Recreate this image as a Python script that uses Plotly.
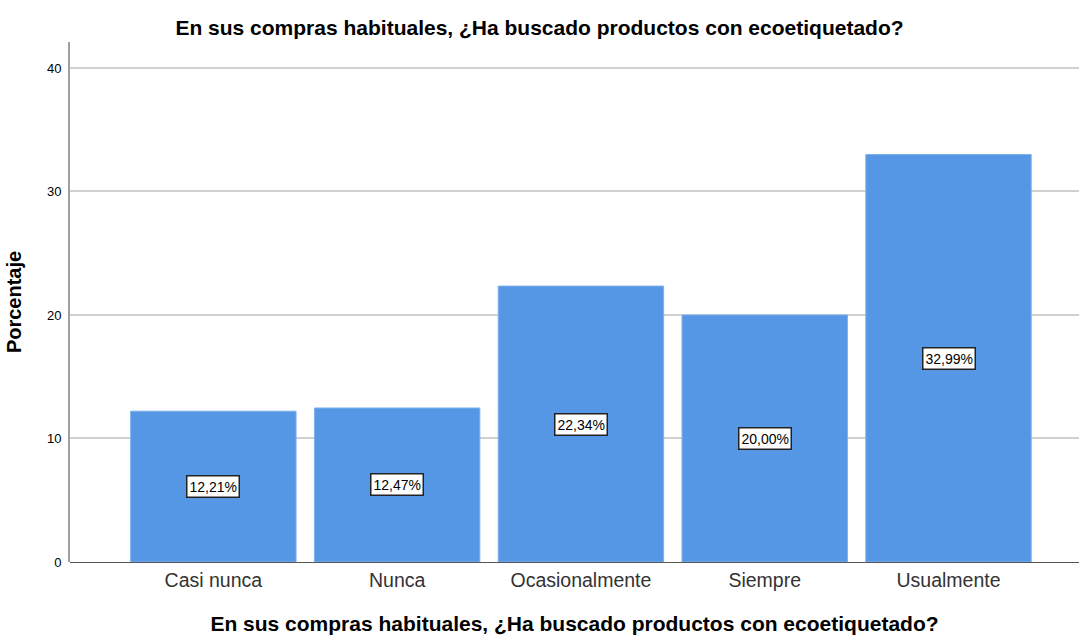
import plotly.graph_objects as go

categorias = ["Casi nunca", "Nunca", "Ocasionalmente", "Siempre", "Usualmente"]
porcentajes = [12.21, 12.47, 22.34, 20.00, 32.99]
y_ticks = [0, 10, 20, 30, 40]

titulo = "En sus compras habituales, ¿Ha buscado productos con ecoetiquetado?"

fig = go.Figure(
    go.Bar(
        x=list(range(len(categorias))),
        y=porcentajes,
        width=0.9,
        marker=dict(color="#5596e5", line=dict(color="#7eb0ec", width=1)),
        hoverinfo="skip",
    )
)

# Etiquetas de porcentaje en cajas blancas a media altura de cada barra
for i, v in enumerate(porcentajes):
    fig.add_annotation(
        x=i, y=v / 2, xref="x", yref="y",
        text=f"{v:.2f}".replace(".", ",") + "%",
        showarrow=False,
        font=dict(family="Liberation Sans, Arial", size=14, color="#000000"),
        bgcolor="#ffffff", bordercolor="#222222", borderwidth=1.5, borderpad=2,
    )

fig.update_layout(
    width=1079, height=635,
    margin=dict(l=70, r=0, t=42, b=73),
    paper_bgcolor="#ffffff", plot_bgcolor="#ffffff",
    showlegend=False,
    title=dict(
        text=f"<b>{titulo}</b>", x=0.5, xanchor="center", y=0.957, yanchor="middle",
        font=dict(family="Liberation Sans, Arial", size=21, color="#000000"),
    ),
    font=dict(family="Liberation Sans, Arial", color="#000000"),
)

fig.update_xaxes(
    range=[-0.78, 4.71],
    tickmode="array", tickvals=list(range(len(categorias))), ticktext=categorias,
    tickfont=dict(size=19.5, color="#333333"),
    ticks="outside", ticklen=1, tickcolor="rgba(0,0,0,0)",
    showgrid=False, zeroline=False,
    showline=False,
    title=dict(text=f"<b>{titulo}</b>", font=dict(size=21, color="#000000"), standoff=26),
)

fig.update_yaxes(
    range=[0, 42.1],
    tickmode="array", tickvals=y_ticks, ticktext=[str(t) for t in y_ticks],
    tickfont=dict(size=13, color="#000000"),
    ticks="outside", ticklen=4, tickcolor="rgba(0,0,0,0)",
    showgrid=True, gridcolor="#d0d0d0", gridwidth=2,
    zeroline=True, zerolinecolor="#555555", zerolinewidth=1,
    showline=True, linecolor="#a0a0a0", linewidth=2,
    title=dict(text="<b>Porcentaje</b>", font=dict(size=20, color="#000000"), standoff=20),
)

fig.write_html("out.html")
